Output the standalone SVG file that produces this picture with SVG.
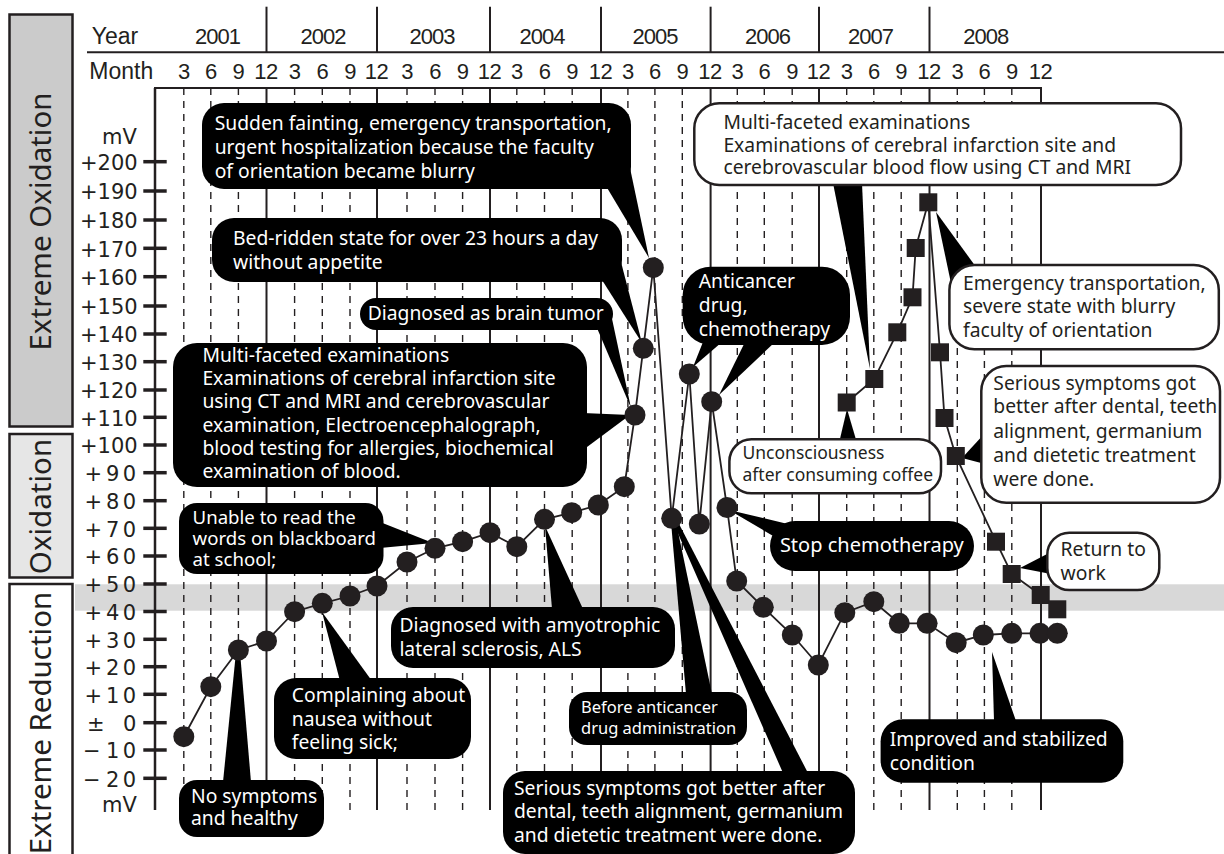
<svg xmlns="http://www.w3.org/2000/svg" width="1224" height="854" viewBox="0 0 1224 854">
<style>
.hdr{font-family:"Liberation Sans",Arial,sans-serif;font-size:22px;fill:#231f20}
.yr{letter-spacing:-1px;text-anchor:middle}
.mo{text-anchor:middle;letter-spacing:-0.5px}
.ax{font-family:"DejaVu Sans",sans-serif;font-size:21px;fill:#231f20}
.side{font-family:"Noto Sans",sans-serif;font-size:29.5px;fill:#231f20}
.bb{fill:#000}
.wb{fill:#fff;stroke:#231f20;stroke-width:2.5}
.tail{fill:#000}
.tw{font-family:"Noto Sans",sans-serif;font-size:19.3px;fill:#fff}
.tk{font-family:"Noto Sans",sans-serif;font-size:19.3px;fill:#231f20}
.gs{stroke:#231f20;stroke-width:2;fill:none}
.gd{stroke:#231f20;stroke-width:1.4;stroke-dasharray:7 6;fill:none}
.tick{stroke:#231f20;stroke-width:3.5}
.ser{fill:none;stroke:#231f20;stroke-width:1.8}
.dot{fill:#231f20}
</style>
<defs>
<circle id="c" r="10.5" class="dot"/>
<rect id="s" x="-9" y="-9" width="18" height="18" class="dot"/>
</defs>
<rect width="1224" height="854" fill="#fff"/>

<g id="side-labels">
<rect x="9.5" y="14.5" width="63" height="412" fill="#cbcbcb" stroke="#231f20" stroke-width="2.5"/>
<rect x="9.5" y="434" width="63" height="143.5" fill="#e6e6e6" stroke="#231f20" stroke-width="2.5"/>
<rect x="9.5" y="584" width="63" height="290" fill="#fff" stroke="#231f20" stroke-width="2.5"/>
<text class="side" text-anchor="middle" transform="translate(51,221.5) rotate(-90)">Extreme  Oxidation</text>
<text class="side" text-anchor="middle" transform="translate(51,506.5) rotate(-90)">Oxidation</text>
<text class="side" text-anchor="end" transform="translate(51,591.7) rotate(-90)">Extreme Reduction</text>
</g>

<rect id="band" x="75" y="584.3" width="1149" height="26.4" fill="#d8d8d8"/>

<g id="header" class="hdr">
<line class="gs" x1="87" y1="52.3" x2="1224" y2="52.3"/>
<g class="gs">
<line x1="266.5" y1="6.7" x2="266.5" y2="52.3"/>
<line x1="377" y1="6.7" x2="377" y2="52.3"/>
<line x1="490" y1="6.7" x2="490" y2="52.3"/>
<line x1="601" y1="6.7" x2="601" y2="52.3"/>
<line x1="710.6" y1="6.7" x2="710.6" y2="52.3"/>
<line x1="819" y1="6.7" x2="819" y2="52.3"/>
<line x1="929.5" y1="6.7" x2="929.5" y2="52.3"/>
</g>
<text x="91.7" y="43.5" style="font-size:23px">Year</text>
<text class="yr" x="217.5" y="43.5">2001</text>
<text class="yr" x="323" y="43.5">2002</text>
<text class="yr" x="432" y="43.5">2003</text>
<text class="yr" x="542" y="43.5">2004</text>
<text class="yr" x="655" y="43.5">2005</text>
<text class="yr" x="767.5" y="43.5">2006</text>
<text class="yr" x="870.6" y="43.5">2007</text>
<text class="yr" x="985.7" y="43.5">2008</text>
<text x="89.3" y="79" style="font-size:23px">Month</text>
<g class="mo">
<text x="183.8" y="78.5">3</text><text x="210.8" y="78.5">6</text><text x="238.4" y="78.5">9</text><text x="266" y="78.5">12</text>
<text x="294.6" y="78.5">3</text><text x="322.3" y="78.5">6</text><text x="350" y="78.5">9</text><text x="376.5" y="78.5">12</text>
<text x="407" y="78.5">3</text><text x="435" y="78.5">6</text><text x="462.6" y="78.5">9</text><text x="489.5" y="78.5">12</text>
<text x="516.8" y="78.5">3</text><text x="544.5" y="78.5">6</text><text x="572.2" y="78.5">9</text><text x="600.5" y="78.5">12</text>
<text x="627.9" y="78.5">3</text><text x="654.9" y="78.5">6</text><text x="682.3" y="78.5">9</text><text x="710" y="78.5">12</text>
<text x="737.3" y="78.5">3</text><text x="764.3" y="78.5">6</text><text x="792.2" y="78.5">9</text><text x="818.5" y="78.5">12</text>
<text x="846.7" y="78.5">3</text><text x="873.8" y="78.5">6</text><text x="901.2" y="78.5">9</text><text x="929" y="78.5">12</text>
<text x="957.3" y="78.5">3</text><text x="984.4" y="78.5">6</text><text x="1011.8" y="78.5">9</text><text x="1040.5" y="78.5">12</text>
</g>
</g>

<g id="grid">
<line class="gs" x1="154" y1="88" x2="1042" y2="88"/>
<g class="gd">
<line x1="183.8" y1="88" x2="183.8" y2="810"/><line x1="210.8" y1="88" x2="210.8" y2="810"/><line x1="238.4" y1="88" x2="238.4" y2="810"/>
<line x1="294.6" y1="88" x2="294.6" y2="810"/><line x1="322.3" y1="88" x2="322.3" y2="810"/><line x1="350" y1="88" x2="350" y2="810"/>
<line x1="407" y1="88" x2="407" y2="810"/><line x1="435" y1="88" x2="435" y2="810"/><line x1="462.6" y1="88" x2="462.6" y2="810"/>
<line x1="516.8" y1="88" x2="516.8" y2="810"/><line x1="544.5" y1="88" x2="544.5" y2="810"/><line x1="572.2" y1="88" x2="572.2" y2="810"/>
<line x1="627.9" y1="88" x2="627.9" y2="810"/><line x1="654.9" y1="88" x2="654.9" y2="810"/><line x1="682.3" y1="88" x2="682.3" y2="810"/>
<line x1="737.3" y1="88" x2="737.3" y2="810"/><line x1="764.3" y1="88" x2="764.3" y2="810"/><line x1="792.2" y1="88" x2="792.2" y2="810"/>
<line x1="846.7" y1="88" x2="846.7" y2="810"/><line x1="873.8" y1="88" x2="873.8" y2="810"/><line x1="901.2" y1="88" x2="901.2" y2="810"/>
<line x1="957.3" y1="88" x2="957.3" y2="810"/><line x1="984.4" y1="88" x2="984.4" y2="810"/><line x1="1011.8" y1="88" x2="1011.8" y2="810"/>
</g>
<g class="gs">
<line x1="266.5" y1="88" x2="266.5" y2="810"/><line x1="377" y1="88" x2="377" y2="810"/><line x1="490" y1="88" x2="490" y2="810"/>
<line x1="601" y1="88" x2="601" y2="810"/><line x1="710.6" y1="88" x2="710.6" y2="810"/><line x1="819" y1="88" x2="819" y2="810"/>
<line x1="929.5" y1="88" x2="929.5" y2="810"/><line x1="1041" y1="88" x2="1041" y2="810"/>
</g>
</g>

<g id="y-axis">
<line class="gs" x1="155" y1="88" x2="155" y2="810" style="stroke-width:2.5"/>
<g class="tick">
<line x1="143.3" y1="161.7" x2="166.7" y2="161.7"/><line x1="143.3" y1="191" x2="166.7" y2="191"/><line x1="143.3" y1="220" x2="166.7" y2="220"/>
<line x1="143.3" y1="248.3" x2="166.7" y2="248.3"/><line x1="143.3" y1="276.7" x2="166.7" y2="276.7"/><line x1="143.3" y1="306" x2="166.7" y2="306"/>
<line x1="143.3" y1="334" x2="166.7" y2="334"/><line x1="143.3" y1="361.7" x2="166.7" y2="361.7"/><line x1="143.3" y1="390" x2="166.7" y2="390"/>
<line x1="143.3" y1="417.3" x2="166.7" y2="417.3"/><line x1="143.3" y1="445" x2="166.7" y2="445"/><line x1="143.3" y1="472.7" x2="166.7" y2="472.7"/>
<line x1="143.3" y1="500.7" x2="166.7" y2="500.7"/><line x1="143.3" y1="528.3" x2="166.7" y2="528.3"/><line x1="143.3" y1="556" x2="166.7" y2="556"/>
<line x1="143.3" y1="584" x2="166.7" y2="584"/><line x1="143.3" y1="611.5" x2="166.7" y2="611.5"/><line x1="143.3" y1="639.3" x2="166.7" y2="639.3"/>
<line x1="143.3" y1="666.7" x2="166.7" y2="666.7"/><line x1="143.3" y1="694.3" x2="166.7" y2="694.3"/><line x1="143.3" y1="722.7" x2="166.7" y2="722.7"/>
<line x1="143.3" y1="750" x2="166.7" y2="750"/><line x1="143.3" y1="778.3" x2="166.7" y2="778.3"/>
</g>
<g class="ax">
<text x="102" y="144">mV</text>
<text x="80" y="170">+200</text>
<text x="80" y="199.3">+190</text>
<text x="80" y="228.3">+180</text>
<text x="80" y="256.6">+170</text>
<text x="80" y="285">+160</text>
<text x="80" y="314.3">+150</text>
<text x="80" y="342.3">+140</text>
<text x="80" y="370">+130</text>
<text x="80" y="398.3">+120</text>
<text x="80" y="425.6">+110</text>
<text x="80" y="453.3">+100</text>
<text x="84.5" y="481">+ <tspan x="106" letter-spacing="3.3">90</tspan></text>
<text x="84.5" y="509">+ <tspan x="106" letter-spacing="3.3">80</tspan></text>
<text x="84.5" y="536.6">+ <tspan x="106" letter-spacing="3.3">70</tspan></text>
<text x="84.5" y="564.3">+ <tspan x="106" letter-spacing="3.3">60</tspan></text>
<text x="84.5" y="592.3">+ <tspan x="106" letter-spacing="3.3">50</tspan></text>
<text x="84.5" y="619.8">+ <tspan x="106" letter-spacing="3.3">40</tspan></text>
<text x="84.5" y="647.6">+ <tspan x="106" letter-spacing="3.3">30</tspan></text>
<text x="84.5" y="675">+ <tspan x="106" letter-spacing="3.3">20</tspan></text>
<text x="84.5" y="702.6">+ <tspan x="106" letter-spacing="3.3">10</tspan></text>
<text x="87" y="731">± <tspan x="123">0</tspan></text>
<text x="83" y="758.3">− <tspan x="106" letter-spacing="3.3">10</tspan></text>
<text x="83" y="786.6">− <tspan x="106" letter-spacing="3.3">20</tspan></text>
<text x="102" y="811.7">mV</text>
</g>
</g>

<g id="callout-sudden-fainting">
<polygon class="tail" points="606,186 630,168 649,258"/>
<rect class="bb" x="202" y="103" width="429" height="86" rx="22"/>
<text class="tw"><tspan x="214.7" y="130">Sudden fainting, emergency transportation,</tspan><tspan x="214.7" y="154">urgent hospitalization because the faculty</tspan><tspan x="214.7" y="177.5">of orientation became blurry</tspan></text>
</g>
<g id="callout-bed-ridden">
<polygon class="tail" points="602,280 621,262 642,343"/>
<rect class="bb" x="212" y="218" width="410" height="64" rx="22"/>
<text class="tw"><tspan x="233" y="245">Bed-ridden state for over 23 hours a day</tspan><tspan x="233" y="268.5">without appetite</tspan></text>
</g>
<g id="callout-brain-tumor">
<polygon class="tail" points="597,328 611,314 631,408"/>
<rect class="bb" x="360" y="298" width="253" height="32" rx="16"/>
<text class="tw" x="367.7" y="319.5">Diagnosed as brain tumor</text>
</g>
<g id="callout-multi-faceted-1">
<polygon class="tail" points="583,413 630,415 583,450"/>
<rect class="bb" x="173" y="343" width="414" height="144" rx="24"/>
<text class="tw"><tspan x="202.4" y="362">Multi-faceted examinations</tspan><tspan x="202.4" y="385">Examinations of cerebral infarction site</tspan><tspan x="202.4" y="408.3">using CT and MRI and cerebrovascular</tspan><tspan x="202.4" y="431.6">examination, Electroencephalograph,</tspan><tspan x="202.4" y="455">blood testing for allergies, biochemical</tspan><tspan x="202.4" y="478.3">examination of blood.</tspan></text>
</g>
<g id="callout-unable-to-read">
<polygon class="tail" points="380,522 433,543 380,548"/>
<rect class="bb" x="179" y="503" width="204.5" height="71" rx="18"/>
<text class="tw" style="font-size:18.6px"><tspan x="192.6" y="524">Unable to read the</tspan><tspan x="192.6" y="545">words on blackboard</tspan><tspan x="192.6" y="566">at school;</tspan></text>
</g>
<g id="callout-no-symptoms">
<polygon class="tail" points="236,652 240,652 251,782 223,782"/>
<rect class="bb" x="179" y="780" width="145" height="57" rx="18"/>
<text class="tw"><tspan x="191" y="802.7">No symptoms</tspan><tspan x="191" y="825">and healthy</tspan></text>
</g>
<g id="callout-complaining">
<polygon class="tail" points="322,612 372,681 340,681"/>
<rect class="bb" x="274" y="678" width="197" height="81" rx="22"/>
<text class="tw"><tspan x="291.8" y="701.7">Complaining about</tspan><tspan x="291.8" y="725.5">nausea without</tspan><tspan x="291.8" y="749.3">feeling sick;</tspan></text>
</g>
<g id="callout-als">
<polygon class="tail" points="545,526 583,609 552,609"/>
<rect class="bb" x="391" y="607" width="284" height="61" rx="22"/>
<text class="tw"><tspan x="399.4" y="631.7">Diagnosed with amyotrophic</tspan><tspan x="399.4" y="656">lateral sclerosis, ALS</tspan></text>
</g>
<g id="callout-before-anticancer">
<polygon class="tail" points="671,522 676,522 712,694 686,694"/>
<rect class="bb" x="569" y="692" width="178" height="53" rx="18"/>
<text class="tw" style="font-size:16.5px"><tspan x="581" y="712.7">Before anticancer</tspan><tspan x="581" y="734">drug administration</tspan></text>
</g>
<g id="callout-serious-1">
<polygon class="tail" points="673,522 678,522 808,773 783,773"/>
<rect class="bb" x="503" y="771" width="352" height="83" rx="22"/>
<text class="tw"><tspan x="514" y="795">Serious symptoms got better after</tspan><tspan x="514" y="818.3">dental, teeth alignment, germanium</tspan><tspan x="514" y="841.7">and dietetic treatment were done.</tspan></text>
</g>
<g id="callout-anticancer">
<polygon class="tail" points="703,342 722,342 693,367"/>
<polygon class="tail" points="745,342 775,342 719,395"/>
<rect class="bb" x="682.7" y="266.7" width="167.3" height="78.3" rx="28"/>
<text class="tw"><tspan x="698.8" y="288.3">Anticancer</tspan><tspan x="698.8" y="311.7">drug,</tspan><tspan x="698.8" y="336">chemotherapy</tspan></text>
</g>
<g id="callout-stop-chemo">
<polygon class="tail" points="729,510 792,525 792,547"/>
<rect class="bb" x="770" y="521" width="204" height="50" rx="25"/>
<text class="tw" style="font-size:20px" x="779.9" y="551.7">Stop chemotherapy</text>
</g>
<g id="callout-multi-faceted-2">
<polygon class="tail" points="833,183 862,183 870,369"/>
<rect class="wb" x="694.3" y="103.3" width="486.7" height="81.7" rx="25"/>
<text class="tk"><tspan x="723.4" y="128.5">Multi-faceted examinations</tspan><tspan x="723.4" y="151.5">Examinations of cerebral infarction site and</tspan><tspan x="723.4" y="173.5">cerebrovascular blood flow using CT and MRI</tspan></text>
</g>
<g id="callout-emergency">
<polygon class="tail" points="936,212 976,267 952,288"/>
<rect class="wb" x="949.4" y="265" width="269.4" height="84.3" rx="25"/>
<text class="tk"><tspan x="963" y="290">Emergency transportation,</tspan><tspan x="963" y="313.3">severe state with blurry</tspan><tspan x="963" y="336.7">faculty of orientation</tspan></text>
</g>
<g id="callout-unconsciousness">
<polygon class="tail" points="839,443 857,443 847,409"/>
<rect class="wb" x="729.4" y="439.3" width="211.6" height="54" rx="22"/>
<text class="tk" style="font-size:17.5px"><tspan x="742.5" y="459.3">Unconsciousness</tspan><tspan x="742.5" y="481">after consuming coffee</tspan></text>
</g>
<g id="callout-serious-2">
<polygon class="tail" points="985,433 985,464 962,458"/>
<rect class="wb" x="981.3" y="366" width="238.7" height="136.7" rx="25"/>
<text class="tk"><tspan x="993.3" y="390">Serious symptoms got</tspan><tspan x="993.3" y="413.3">better after dental, teeth</tspan><tspan x="993.3" y="438">alignment, germanium</tspan><tspan x="993.3" y="461.7">and dietetic treatment</tspan><tspan x="993.3" y="485.5">were done.</tspan></text>
</g>
<g id="callout-return-to-work">
<polygon class="tail" points="1051,552 1051,574 1020,568"/>
<rect class="wb" x="1047.3" y="532.7" width="112" height="57.3" rx="22"/>
<text class="tk"><tspan x="1060.6" y="556">Return to</tspan><tspan x="1060.6" y="580">work</tspan></text>
</g>
<g id="callout-improved">
<polygon class="tail" points="992,652 1016,721 994,721"/>
<rect class="bb" x="880.6" y="719.3" width="242.7" height="63.4" rx="22"/>
<text class="tw"><tspan x="889.7" y="746">Improved and stabilized</tspan><tspan x="889.7" y="770">condition</tspan></text>
</g>

<g id="connectors">
<polyline class="ser" points="183.8,736.7 210.8,686.7 238.4,650 266.5,641 294.6,611.7 322.3,603.3 350,596 377,586 407,562 435,548.3 462.6,541.7 490,532.7 516.8,546.7 544.5,519.3 571.7,512.7 598.3,505 624.3,486.7 635,415 643.3,348.3 653.3,267.7 671.7,518.3 689.3,374 699.3,524 711.7,401.7 727,507.5 736.7,581 763.3,607.3 792.3,635 818.3,665 844.8,612.7 873.8,601.7 899.3,623.3 927.1,623.3 956.2,642.7 983.3,635 1011.7,633.3 1040,633.3 1057.3,633.3"/>
<polyline class="ser" points="846.7,402.5 874.3,379 897.3,332.3 912.5,297.3 915.7,248 928.3,202.3 940,352.3 944.5,418 955.8,456 996,541.7 1011.7,574 1040.7,595 1057.3,609.3"/>
</g>

<g id="series-circles">
<use href="#c" x="183.8" y="736.7"/><use href="#c" x="210.8" y="686.7"/><use href="#c" x="238.4" y="650"/><use href="#c" x="266.5" y="641"/>
<use href="#c" x="294.6" y="611.7"/><use href="#c" x="322.3" y="603.3"/><use href="#c" x="350" y="596"/><use href="#c" x="377" y="586"/>
<use href="#c" x="407" y="562"/><use href="#c" x="435" y="548.3"/><use href="#c" x="462.6" y="541.7"/><use href="#c" x="490" y="532.7"/>
<use href="#c" x="516.8" y="546.7"/><use href="#c" x="544.5" y="519.3"/><use href="#c" x="571.7" y="512.7"/><use href="#c" x="598.3" y="505"/>
<use href="#c" x="624.3" y="486.7"/><use href="#c" x="635" y="415"/><use href="#c" x="643.3" y="348.3"/><use href="#c" x="653.3" y="267.7"/>
<use href="#c" x="671.7" y="518.3"/><use href="#c" x="689.3" y="374"/><use href="#c" x="699.3" y="524"/><use href="#c" x="711.7" y="401.7"/>
<use href="#c" x="727" y="507.5"/><use href="#c" x="736.7" y="581"/><use href="#c" x="763.3" y="607.3"/><use href="#c" x="792.3" y="635"/>
<use href="#c" x="818.3" y="665"/><use href="#c" x="844.8" y="612.7"/><use href="#c" x="873.8" y="601.7"/><use href="#c" x="899.3" y="623.3"/>
<use href="#c" x="927.1" y="623.3"/><use href="#c" x="956.2" y="642.7"/><use href="#c" x="983.3" y="635"/><use href="#c" x="1011.7" y="633.3"/>
<use href="#c" x="1040" y="633.3"/><use href="#c" x="1057.3" y="633.3"/>
</g>
<g id="series-squares">
<use href="#s" x="846.7" y="402.5"/><use href="#s" x="874.3" y="379"/><use href="#s" x="897.3" y="332.3"/><use href="#s" x="912.5" y="297.3"/>
<use href="#s" x="915.7" y="248"/><use href="#s" x="928.3" y="202.3"/><use href="#s" x="940" y="352.3"/><use href="#s" x="944.5" y="418"/>
<use href="#s" x="955.8" y="456"/><use href="#s" x="996" y="541.7"/><use href="#s" x="1011.7" y="574"/><use href="#s" x="1040.7" y="595"/>
<use href="#s" x="1057.3" y="609.3"/>
</g>
</svg>
